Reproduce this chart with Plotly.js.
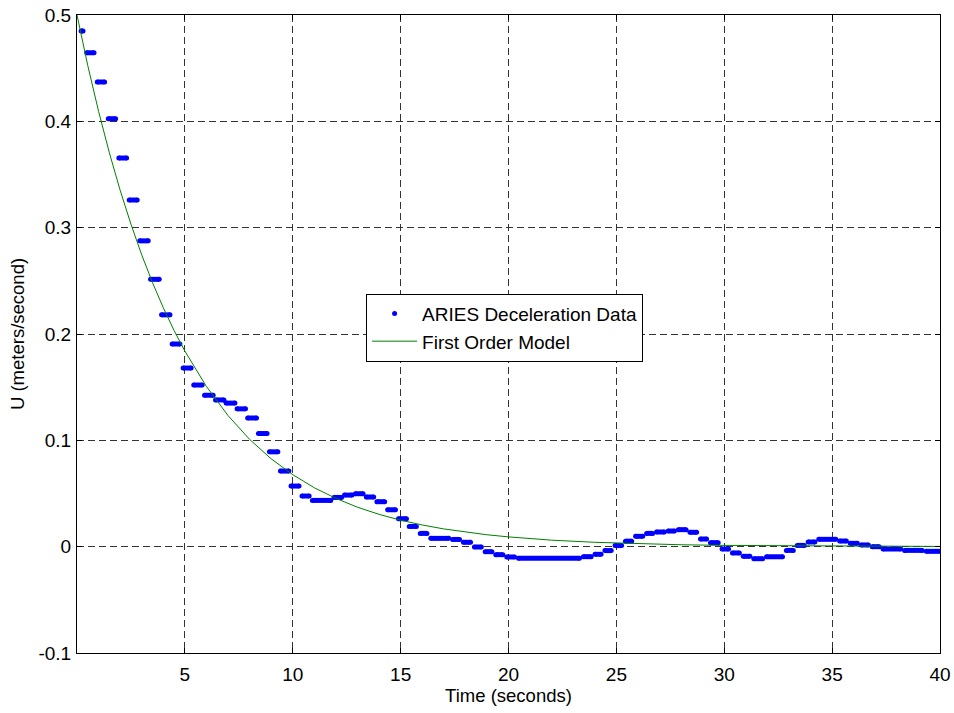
<!DOCTYPE html>
<html>
<head>
<meta charset="utf-8">
<script src="https://cdn.plot.ly/plotly-3.0.1.min.js"></script>
<style>html,body{margin:0;padding:0;background:#fff;}#chart{width:954px;height:713px;}</style>
</head>
<body>
<div id="chart"></div>
<script>
// ARIES deceleration data: quantized steps (first and last dot time of each run, level)
var stepStart = [0.19,0.45,0.94,1.45,1.94,2.42,2.91,3.41,3.92,4.41,4.92,5.41,5.91,6.42,6.91,7.42,7.91,8.41,8.92,9.43,9.92,10.43,10.91,11.91,12.40,12.90,13.41,13.90,14.40,14.90,15.40,15.91,16.40,17.41,17.91,18.42,18.92,19.41,19.92,20.46,23.47,24.01,24.47,24.94,25.42,25.89,26.40,26.86,27.40,27.87,28.41,28.90,29.36,29.90,30.38,30.88,31.37,31.96,32.88,33.38,33.89,34.38,35.35,35.84,36.35,36.86,37.36,38.36,39.36];
var stepEnd   = [0.28,0.79,1.28,1.79,2.30,2.79,3.30,3.81,4.31,4.77,5.29,5.80,6.31,6.81,7.32,7.81,8.32,8.81,9.31,9.82,10.29,10.76,11.76,12.26,12.75,13.26,13.75,14.26,14.76,15.27,15.73,16.22,17.23,17.73,18.24,18.74,19.23,19.74,20.28,23.29,23.83,24.29,24.76,25.24,25.71,26.22,26.68,27.22,27.69,28.23,28.72,29.18,29.72,30.20,30.70,31.19,31.78,32.70,33.20,33.71,34.20,35.17,35.66,36.17,36.68,37.18,38.18,39.18,40.10];
var stepU     = [0.485,0.4645,0.437,0.4025,0.3655,0.326,0.2876,0.2514,0.218,0.1906,0.168,0.152,0.1424,0.138,0.135,0.1296,0.121,0.1064,0.0892,0.0711,0.057,0.0476,0.0435,0.0463,0.0485,0.0498,0.0467,0.0423,0.0347,0.0263,0.019,0.0125,0.0078,0.0068,0.0041,-0.0003,-0.0047,-0.0075,-0.0097,-0.011,-0.0094,-0.0072,-0.0037,0.001,0.0052,0.0097,0.0125,0.0138,0.0147,0.016,0.0135,0.0072,0.0038,-0.0022,-0.0059,-0.0091,-0.0113,-0.0095,-0.0035,0.0012,0.0044,0.0069,0.0053,0.0031,0.0016,0.0,-0.0022,-0.0035,-0.0044];

// First order model curve
var modelT = [0,0.5,1,1.5,2,2.5,3,3.5,4,4.5,5,6,7,8,9,10,11,12,13,14,15,16,17,18,19,20,22,24,26,28,30,33,36,40];
var modelU = [0.5,0.4524,0.4094,0.3704,0.3352,0.3033,0.2744,0.2483,0.2247,0.2033,0.1839,0.1506,0.1233,0.1009,0.0826,0.0677,0.0554,0.0454,0.0371,0.0304,0.0249,0.0204,0.0167,0.0137,0.0112,0.0092,0.0061,0.0041,0.0028,0.0018,0.0012,0.0007,0.0004,0.0002];

var xTickVals = [5,10,15,20,25,30,35,40];
var xTickText = ['5','10','15','20','25','30','35','40'];
var yTickVals = [-0.1,0,0.1,0.2,0.3,0.4,0.5];
var yTickText = ['-0.1','0','0.1','0.2','0.3','0.4','0.5'];

var segX = [], segY = [];
for (var i = 0; i < stepU.length; i++) {
  segX.push(stepStart[i], stepEnd[i], null);
  segY.push(stepU[i], stepU[i], null);
}

var FONT = 'Liberation Sans, Arial, Helvetica, sans-serif';
var blue = '#0000ff', green = '#008000';

var traces = [
  {x:[null], y:[null], type:'scatter', mode:'markers', name:'ARIES Deceleration Data',
   marker:{color:blue, size:5}},
  {x:segX, y:segY, type:'scatter', mode:'lines+markers', showlegend:false, name:'data',
   line:{color:blue, width:5}, marker:{color:blue, size:5}, connectgaps:false, hoverinfo:'skip'},
  {x:modelT, y:modelU, type:'scatter', mode:'lines', name:'First Order Model',
   line:{color:green, width:1}}
];

var axisCommon = {
  showline:true, linecolor:'#000', linewidth:1, mirror:'allticks',
  ticks:'inside', ticklen:5, tickcolor:'#000',
  showgrid:true, gridcolor:'#333', griddash:'7px,4px', gridwidth:1,
  zeroline:false, tickfont:{family:FONT, size:19, color:'#000'}
};

var layout = {
  width:954, height:713,
  margin:{l:77, r:14, t:15, b:60},
  paper_bgcolor:'#fff', plot_bgcolor:'#fff',
  font:{family:FONT, color:'#000'},
  xaxis: Object.assign({}, axisCommon, {
    range:[0,40], tickmode:'array', tickvals:xTickVals, ticktext:xTickText,
    ticklabelstandoff:4,
    title:{text:'Time (seconds)', font:{family:FONT, size:18.5, color:'#000'}, standoff:3}
  }),
  yaxis: Object.assign({}, axisCommon, {
    range:[-0.1,0.5], tickmode:'array', tickvals:yTickVals, ticktext:yTickText,
    ticklabelstandoff:1,
    title:{text:'U (meters/second)', font:{family:FONT, size:18.5, color:'#000'}, standoff:8}
  }),
  showlegend:true,
  legend:{x:0.335, y:0.51, xanchor:'left', yanchor:'middle', bgcolor:'#fff',
    bordercolor:'#000', borderwidth:1, font:{family:FONT, size:19, color:'#000'},
    itemwidth:45, tracegroupgap:0}
};

Plotly.newPlot('chart', traces, layout, {displayModeBar:false, staticPlot:true});
</script>
</body>
</html>
